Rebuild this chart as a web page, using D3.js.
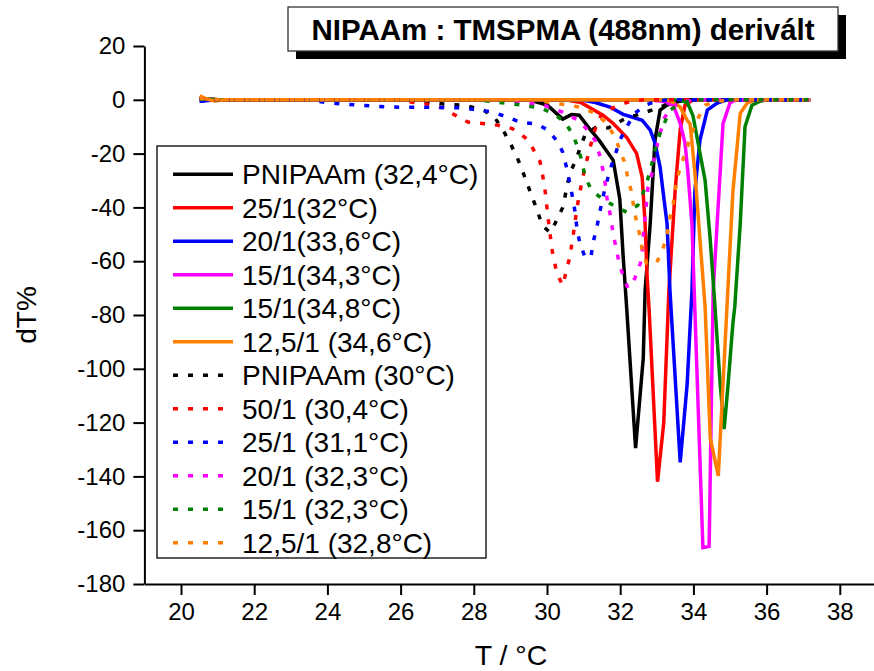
<!DOCTYPE html>
<html>
<head>
<meta charset="utf-8">
<script src="https://cdn.jsdelivr.net/npm/d3@7/dist/d3.min.js"></script>
<style>
	body { margin: 0; background: #fff; }
	svg { display: block; font-family: "Liberation Sans", Arial, sans-serif; }
</style>
</head>
<body>
<div id="chart"></div>
<script>
// series, [T (°C), dT%]
let pnipaamSolid = [[20.51,0.5],[21.01,0],[29.5,0],[30.01,-2],[30.43,-7.2],[30.67,-5.5],[30.88,-5.7],[31.15,-10.5],[31.42,-15],[31.81,-22.5],[31.99,-37],[32.08,-58],[32.18,-78],[32.42,-129.5],[32.63,-96],[32.68,-71],[32.82,-46],[32.95,-15],[33.09,-3.8],[33.28,-2],[33.75,0],[37.19,0]];
let r25Solid = [[20.51,0.3],[21.01,0],[30.51,0],[30.92,-1],[31.53,-5.7],[31.81,-8.8],[32.18,-14],[32.45,-20],[32.6,-28.7],[32.68,-46],[32.73,-64.6],[32.79,-78],[33.02,-142],[33.19,-120],[33.33,-71],[33.5,-34],[33.64,-11],[33.77,-2],[33.99,0],[37.19,0]];
let r20Solid = [[20.51,-0.5],[21.01,0],[30.92,0],[31.32,-1],[31.72,-2.7],[32.08,-5.4],[32.32,-6.4],[32.6,-7.6],[32.82,-11.3],[32.95,-16],[33.09,-25],[33.17,-34],[33.28,-46],[33.36,-71],[33.64,-134.8],[33.83,-105.6],[33.96,-71],[34.04,-34],[34.18,-15],[34.38,-3.8],[34.65,-1.2],[34.92,0],[37.19,0]];
let r15aSolid = [[20.51,0.3],[21.01,0],[32.74,0],[33.14,-0.5],[33.45,-2],[33.64,-8.8],[33.77,-16],[33.85,-27],[33.96,-46],[34.04,-78],[34.26,-166.5],[34.43,-166],[34.54,-71],[34.81,-8.8],[35.0,-1.2],[35.16,0],[37.19,0]];
let r15bSolid = [[20.51,0.5],[21.01,0],[33.45,0],[33.83,-0.8],[33.99,-6],[34.1,-14],[34.32,-30],[34.46,-52],[34.59,-77],[34.73,-105.5],[34.84,-122.4],[34.94,-107],[35.08,-83],[35.13,-77],[35.28,-46],[35.41,-10],[35.6,-2],[35.82,-0.5],[36.07,0],[37.19,0]];
let r125Solid = [[20.51,1.5],[20.71,0.3],[20.91,-0.4],[21.21,0],[33.14,0],[33.36,-0.3],[33.64,-2.7],[33.83,-7.6],[33.91,-9],[34.04,-27],[34.18,-52],[34.32,-77],[34.46,-125.7],[34.68,-139.8],[34.94,-71],[35.08,-34],[35.28,-5],[35.47,-1.2],[35.67,0],[37.19,0]];

let pnipaamDot = [[20.51,0.3],[21.01,0],[26.07,0],[26.67,-0.8],[27.18,-1.6],[27.76,-2],[28.29,-4],[28.58,-6.8],[28.8,-11.3],[28.99,-16],[29.18,-21.3],[29.32,-26],[29.59,-36],[29.73,-41],[29.87,-46.7],[30.08,-49.3],[30.22,-46],[30.43,-40],[30.62,-27.5],[30.77,-23],[31.04,-13],[31.36,-10],[31.67,-10.5],[32.13,-7],[32.68,-4.7],[33.09,-2.7],[33.45,-0.8],[33.95,0],[37.19,0]];
let r50Dot = [[20.51,0.3],[21.01,0],[25.86,0],[26.37,-1],[26.72,-1.6],[27.16,-3],[27.49,-5.7],[27.84,-8.3],[28.23,-8.8],[28.63,-9.4],[29.05,-10.7],[29.4,-14],[29.61,-18],[29.81,-23],[29.89,-28.8],[29.95,-34],[30.03,-44],[30.14,-56],[30.27,-64.6],[30.43,-69],[30.62,-58.6],[30.71,-51],[30.82,-40],[30.96,-30],[31.04,-25],[31.23,-15],[31.36,-8.8],[31.53,-4.5],[32.18,-1],[32.64,0],[37.19,0]];
let r25Dot = [[20.51,-0.5],[21.01,0],[23.54,0],[23.94,-1],[24.45,-1.6],[25.66,-2.7],[26.87,-2.8],[27.67,-3],[28.12,-3.8],[28.52,-4.6],[28.91,-6.4],[29.26,-8.3],[29.73,-9],[30.03,-11.3],[30.3,-15.7],[30.43,-19.5],[30.54,-25.5],[30.62,-31],[30.71,-37],[30.77,-42],[30.82,-48],[30.9,-53.5],[31.04,-58.5],[31.2,-58.5],[31.26,-53],[31.36,-47.5],[31.44,-42],[31.53,-36],[31.72,-26],[31.86,-20.6],[31.99,-15],[32.18,-10],[32.4,-5],[32.68,-2],[33.0,-0.5],[33.34,0],[37.19,0]];
let r20Dot = [[20.51,0.3],[21.01,0],[28.59,0],[29.3,-0.8],[29.91,-2],[30.43,-4.6],[30.85,-7.6],[31.12,-11.3],[31.31,-15],[31.44,-20.6],[31.53,-26.2],[31.59,-31],[31.64,-36.6],[31.72,-42.2],[31.78,-47.4],[31.86,-53.4],[31.94,-58.6],[32.05,-64.2],[32.21,-70],[32.4,-66.4],[32.55,-60.8],[32.6,-56],[32.63,-50.4],[32.68,-43.7],[32.76,-32.5],[32.87,-27.3],[32.9,-23.2],[33.0,-17.6],[33.09,-12.4],[33.22,-6.4],[33.45,-2.3],[33.75,-0.5],[34.15,0],[37.19,0]];
let r15Dot = [[20.51,0.3],[21.01,0],[28.09,0],[28.69,-1],[29.34,-2],[29.81,-3],[30.16,-5],[30.49,-8.3],[30.71,-13],[30.85,-18],[30.96,-23],[31.04,-28.8],[31.23,-33.8],[31.5,-36.7],[31.81,-39.2],[32.18,-41.8],[32.48,-39.2],[32.63,-34.4],[32.76,-29.2],[32.87,-23.6],[32.95,-18.7],[33.09,-12.4],[33.22,-8.3],[33.36,-3.8],[33.58,-2],[33.95,0],[37.19,0]];
let r125Dot = [[20.51,0.5],[21.01,0],[29.6,0],[30.11,-1],[30.9,-2.7],[31.31,-5],[31.64,-8.8],[31.86,-14],[31.99,-18.7],[32.13,-23.6],[32.21,-29.2],[32.32,-34.8],[32.37,-40],[32.45,-45.6],[32.55,-51],[32.6,-56],[32.73,-61],[33.0,-60.4],[33.17,-55.3],[33.28,-50],[33.36,-44],[33.45,-38.5],[33.5,-33.7],[33.58,-28],[33.69,-23.2],[33.83,-17.6],[33.96,-12.4],[34.1,-7.5],[34.32,-2],[34.66,-0.5],[35.16,0],[37.19,0]];

let seriesNames = ["PNIPAAm (32,4°C)", "25/1(32°C)", "20/1(33,6°C)", "15/1(34,3°C)", "15/1(34,8°C)", "12,5/1 (34,6°C)",
	"PNIPAAm (30°C)", "50/1 (30,4°C)", "25/1 (31,1°C)", "20/1 (32,3°C)", "15/1 (32,3°C)", "12,5/1 (32,8°C)"];
let seriesData = [pnipaamSolid, r25Solid, r20Solid, r15aSolid, r15bSolid, r125Solid,
	pnipaamDot, r50Dot, r25Dot, r20Dot, r15Dot, r125Dot];
let seriesColors = ["#000000", "#ff0000", "#0000ff", "#ff00ff", "#008000", "#ff8000",
	"#000000", "#ff0000", "#0000ff", "#ff00ff", "#008000", "#ff8000"];
let seriesDotted = [false, false, false, false, false, false, true, true, true, true, true, true];

let xMajorTicks = [20, 22, 24, 26, 28, 30, 32, 34, 36, 38];
let xMinorTicks = [19, 21, 23, 25, 27, 29, 31, 33, 35, 37, 39];
let yMajorTicks = [20, 0, -20, -40, -60, -80, -100, -120, -140, -160, -180];
let yMinorTicks = [10, -10, -30, -50, -70, -90, -110, -130, -150, -170];

let chartTitle = "NIPAAm : TMSPMA (488nm) derivált",
	xTitle = "T / °C",
	yTitle = "dT%";

let w = 874, h = 671;

let svg = d3.select("#chart").append("svg").attr("width", w).attr("height", h);

let x = d3.scaleLinear().domain([19, 39]).range([144.4, 876.4]),
	y = d3.scaleLinear().domain([-180, 20]).range([584, 46]);

// axes
let xAxisG = svg.append("g").attr("transform", "translate(0," + y(-180) + ")");
xAxisG.call(d3.axisBottom(x).tickValues(xMinorTicks).tickSize(6).tickSizeOuter(0).tickFormat(""));
xAxisG.call(d3.axisBottom(x).tickValues(xMajorTicks).tickSize(11).tickSizeOuter(0).tickPadding(8).tickFormat(d => String(d)));

let yAxisG = svg.append("g").attr("transform", "translate(" + x(19) + ",0)");
yAxisG.call(d3.axisLeft(y).tickValues(yMinorTicks).tickSize(6).tickSizeOuter(0).tickFormat(""));
yAxisG.call(d3.axisLeft(y).tickValues(yMajorTicks).tickSize(11).tickSizeOuter(0).tickPadding(8).tickFormat(d => String(d)));

svg.selectAll(".domain").attr("stroke", "#000").attr("stroke-width", 2);
svg.selectAll(".tick line").attr("stroke", "#000").attr("stroke-width", 2);
svg.selectAll(".tick text")
	.attr("fill", "#000")
	.style("font-family", "'Liberation Sans', Arial, sans-serif")
	.style("font-size", "24px");

// axis titles
svg.append("text")
	.attr("x", 511)
	.attr("y", 665)
	.attr("text-anchor", "middle")
	.style("font-size", "28.5px")
	.text(xTitle);

svg.append("text")
	.attr("transform", "translate(36,315) rotate(-90)")
	.attr("text-anchor", "middle")
	.style("font-size", "28px")
	.text(yTitle);

// curves
let line = d3.line().x(d => x(d[0])).y(d => y(d[1]));

seriesData.forEach(function(ser, si){
	svg.append("path")
		.datum(ser)
		.attr("fill", "none")
		.attr("stroke", seriesColors[si])
		.attr("stroke-width", 3.5)
		.attr("stroke-linejoin", "miter")
		.attr("stroke-dasharray", seriesDotted[si] ? "5,10" : null)
		.attr("d", line);
});

// legend
let legendG = svg.append("g");
legendG.append("rect")
	.attr("x", 157).attr("y", 146)
	.attr("width", 329).attr("height", 412)
	.attr("fill", "#fff")
	.attr("stroke", "#000")
	.attr("stroke-width", 1.3);

seriesNames.forEach(function(name, si){
	let ly = 174.3 + si * 33.5;
	legendG.append("line")
		.attr("x1", 173).attr("x2", 233)
		.attr("y1", ly).attr("y2", ly)
		.attr("stroke", seriesColors[si])
		.attr("stroke-width", 3.5)
		.attr("stroke-dasharray", seriesDotted[si] ? "5,10" : null);
	legendG.append("text")
		.attr("x", 242)
		.attr("y", ly + 10)
		.style("font-size", "28px")
		.text(name);
});

// title box with shadow
svg.append("rect")
	.attr("x", 296).attr("y", 15)
	.attr("width", 550).attr("height", 44)
	.attr("fill", "#000");
svg.append("rect")
	.attr("x", 288).attr("y", 7)
	.attr("width", 550).attr("height", 44)
	.attr("fill", "#fff")
	.attr("stroke", "#333")
	.attr("stroke-width", 1.3);
svg.append("text")
	.attr("x", 563)
	.attr("y", 40)
	.attr("text-anchor", "middle")
	.style("font-size", "29.5px")
	.style("font-weight", "bold")
	.text(chartTitle);
</script>
</body>
</html>
